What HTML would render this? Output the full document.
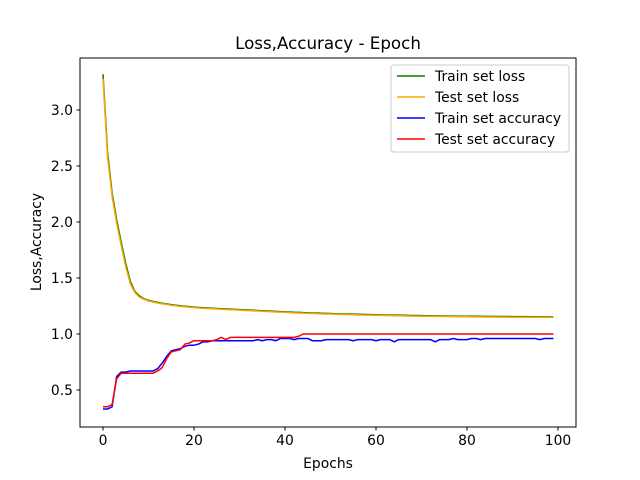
<!DOCTYPE html>
<html><head><meta charset="utf-8"><style>
body{margin:0;background:#fff;}
svg{display:block;font-family:"DejaVu Sans","Liberation Sans",sans-serif;}
</style></head><body>
<svg id="chart" width="640" height="480"></svg>
<script>
const epochs=[...Array(100).keys()];
const trainLoss=[3.32,2.62,2.26,2.02,1.82,1.63,1.47,1.38,1.34,1.315,1.30,1.29,1.282,1.275,1.268,1.262,1.257,1.252,1.248,1.244,1.24,1.237,1.234,1.232,1.23,1.228,1.226,1.224,1.222,1.22,1.218,1.216,1.214,1.212,1.21,1.208,1.206,1.204,1.202,1.2,1.198,1.196,1.194,1.193,1.191,1.19,1.188,1.187,1.185,1.184,1.183,1.181,1.18,1.179,1.178,1.177,1.176,1.175,1.174,1.173,1.172,1.171,1.17,1.169,1.168,1.168,1.167,1.166,1.165,1.165,1.164,1.163,1.163,1.162,1.162,1.161,1.161,1.16,1.16,1.159,1.159,1.158,1.158,1.158,1.157,1.157,1.157,1.156,1.156,1.156,1.155,1.155,1.155,1.155,1.154,1.154,1.154,1.154,1.153,1.153];
const testLoss=[3.28,2.58,2.23,1.99,1.79,1.6,1.45,1.37,1.33,1.31,1.295,1.285,1.277,1.27,1.263,1.257,1.252,1.247,1.243,1.239,1.235,1.232,1.229,1.227,1.225,1.223,1.221,1.219,1.217,1.215,1.213,1.211,1.209,1.207,1.205,1.203,1.201,1.199,1.197,1.195,1.193,1.191,1.189,1.188,1.186,1.185,1.183,1.182,1.18,1.179,1.178,1.176,1.175,1.174,1.173,1.172,1.171,1.17,1.169,1.168,1.167,1.166,1.165,1.164,1.163,1.163,1.162,1.161,1.16,1.16,1.159,1.158,1.158,1.157,1.157,1.156,1.156,1.155,1.155,1.154,1.154,1.153,1.153,1.153,1.152,1.152,1.152,1.151,1.151,1.151,1.15,1.15,1.15,1.15,1.149,1.149,1.149,1.149,1.148,1.148];
const trainAcc=[0.33,0.33,0.35,0.62,0.66,0.66,0.67,0.67,0.67,0.67,0.67,0.67,0.69,0.74,0.80,0.85,0.86,0.87,0.89,0.90,0.90,0.91,0.93,0.93,0.94,0.94,0.94,0.94,0.94,0.94,0.94,0.94,0.94,0.94,0.95,0.94,0.95,0.95,0.94,0.96,0.96,0.96,0.95,0.96,0.96,0.96,0.94,0.94,0.94,0.95,0.95,0.95,0.95,0.95,0.95,0.94,0.95,0.95,0.95,0.95,0.94,0.95,0.95,0.95,0.93,0.95,0.95,0.95,0.95,0.95,0.95,0.95,0.95,0.93,0.95,0.95,0.95,0.96,0.95,0.95,0.95,0.96,0.96,0.95,0.96,0.96,0.96,0.96,0.96,0.96,0.96,0.96,0.96,0.96,0.96,0.96,0.95,0.96,0.96,0.96];
const testAcc=[0.35,0.35,0.37,0.60,0.65,0.65,0.65,0.65,0.65,0.65,0.65,0.65,0.67,0.70,0.78,0.84,0.85,0.86,0.91,0.92,0.94,0.94,0.94,0.94,0.94,0.95,0.97,0.95,0.97,0.97,0.97,0.97,0.97,0.97,0.97,0.97,0.97,0.97,0.97,0.97,0.97,0.97,0.97,0.98,1.0,1.0,1.0,1.0,1.0,1.0,1.0,1.0,1.0,1.0,1.0,1.0,1.0,1.0,1.0,1.0,1.0,1.0,1.0,1.0,1.0,1.0,1.0,1.0,1.0,1.0,1.0,1.0,1.0,1.0,1.0,1.0,1.0,1.0,1.0,1.0,1.0,1.0,1.0,1.0,1.0,1.0,1.0,1.0,1.0,1.0,1.0,1.0,1.0,1.0,1.0,1.0,1.0,1.0,1.0,1.0];
const xTicks=[0,20,40,60,80,100];
const yTicks=[0.5,1.0,1.5,2.0,2.5,3.0];
const seriesNames=["Train set loss","Test set loss","Train set accuracy","Test set accuracy"];
const seriesColors=["green","orange","blue","red"];

const NS="http://www.w3.org/2000/svg";
const svg=document.getElementById('chart');
const L=80,R=576,T=58,B=427;
const xs=v=>103+v*4.55;
const ys=v=>334-(v-1)*112;
function mk(tag,attrs,parent){const e=document.createElementNS(NS,tag);for(const k in attrs)e.setAttribute(k,attrs[k]);(parent||svg).appendChild(e);return e;}

const title=mk('text',{x:328,y:49,'text-anchor':'middle','font-size':16.7});title.textContent="Loss,Accuracy - Epoch";



const series=[trainLoss,testLoss,trainAcc,testAcc];
const plot=mk('g',{});


series.forEach((s,i)=>{
  const p=mk('polyline',{points:s.map((v,j)=>xs(epochs[j]).toFixed(2)+','+ys(v).toFixed(2)).join(' '),fill:'none',stroke:seriesColors[i],'stroke-width':1.5,'stroke-linejoin':'round'},plot);
  
  
});

const frame=mk('rect',{x:L,y:T,width:R-L,height:B-T,fill:'none',stroke:'#000','stroke-width':1});



xTicks.forEach(t=>{
  const x=xs(t);
  mk('line',{x1:x,x2:x,y1:B,y2:B+3.5,stroke:'#000'});
  const tx=mk('text',{x:x,y:B+18,'text-anchor':'middle','font-size':13.9});tx.textContent=t;
  
  
});
yTicks.forEach(t=>{
  const y=ys(t);
  mk('line',{x1:L-3.5,x2:L,y1:y,y2:y,stroke:'#000'});
  const tx=mk('text',{x:L-7,y:y+5,'text-anchor':'end','font-size':13.9});tx.textContent=t.toFixed(1);
  
  
});
const xl=mk('text',{x:328,y:468,'text-anchor':'middle','font-size':13.9});xl.textContent="Epochs";


const yl=mk('text',{x:0,y:0,'text-anchor':'middle','font-size':13.9,transform:'translate(41,242) rotate(-90)'});yl.textContent="Loss,Accuracy";



const lg=mk('g',{});


mk('rect',{x:391,y:65,width:178,height:87,rx:3,fill:'#fff','fill-opacity':0.8,stroke:'#ccc'},lg);
seriesNames.forEach((n,i)=>{
  const y=76+i*21;
  const e=mk('g',{},lg);
  
  
  mk('line',{x1:397,x2:425,y1:y,y2:y,stroke:seriesColors[i],'stroke-width':1.5},e);
  const t=mk('text',{x:435,y:y+5,'font-size':13.9},e);t.textContent=n;
});
</script>
</body></html>
